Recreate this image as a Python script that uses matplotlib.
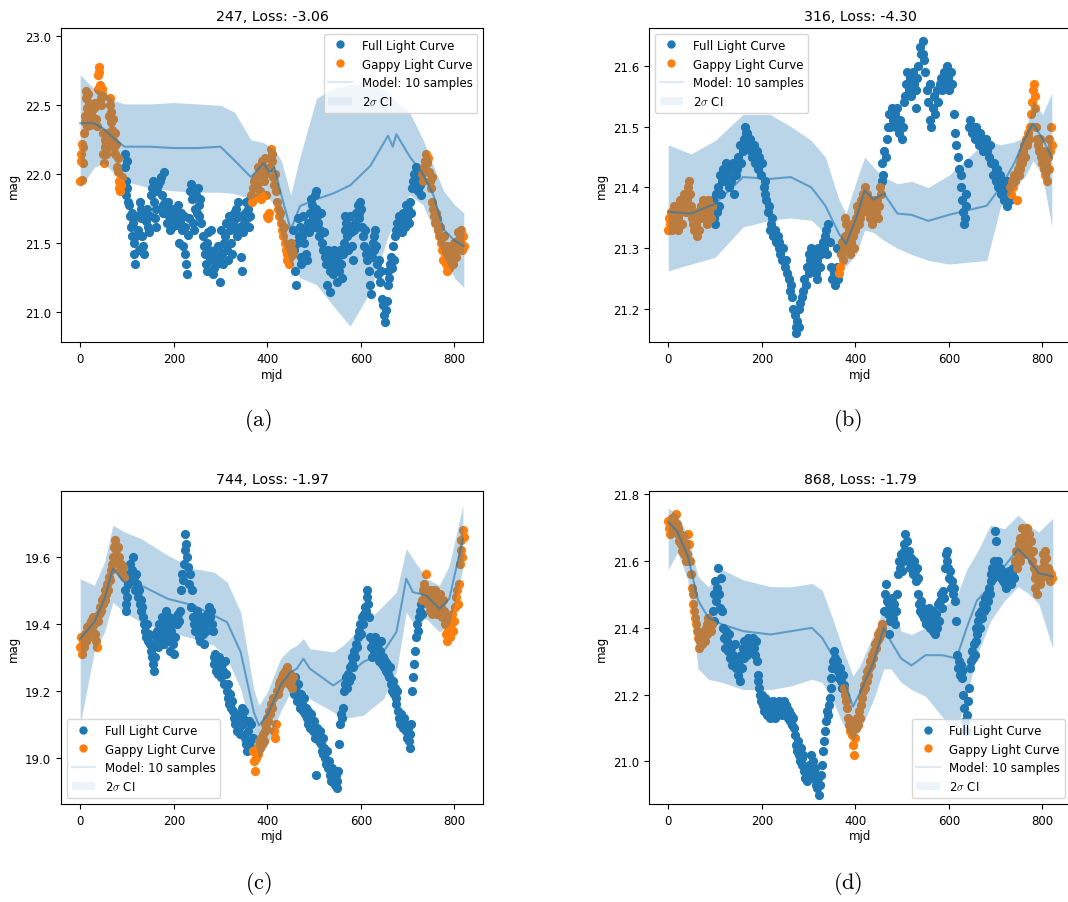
import numpy as np
import matplotlib
matplotlib.use("Agg")
import matplotlib.pyplot as plt
from matplotlib.lines import Line2D
from matplotlib.patches import Patch

plt.rcParams.update({
    'font.size': 8.5,
    'axes.titlesize': 10.2,
    'axes.labelsize': 8.5,
    'xtick.labelsize': 8.5,
    'ytick.labelsize': 8.5,
    'legend.fontsize': 8.5,
    'mathtext.fontset': 'cm',
})

# ---- light curve 247 -------------------------------------------------------
full_247 = [
    (95, 22.15), (96, 22.05), (97, 21.95), (98, 21.85), (100, 22.1), (101, 21.9), (103, 21.8), (105, 21.78),
    (106, 21.7), (108, 21.62), (110, 21.72), (111, 21.55), (113, 21.65), (115, 21.5), (116, 21.42), (118, 21.35),
    (119, 21.55), (121, 21.7), (123, 21.6), (125, 21.45), (127, 21.8), (129, 21.75), (131, 21.68), (133, 21.55),
    (135, 21.48), (137, 21.42), (139, 21.72), (141, 21.66), (143, 21.75), (145, 21.62), (147, 21.58), (149, 21.7),
    (151, 21.85), (153, 21.9), (155, 21.95), (157, 21.8), (159, 21.68), (161, 21.62), (163, 21.75), (165, 21.88),
    (167, 21.92), (170, 21.95), (172, 21.98), (174, 21.85), (176, 21.78), (178, 21.72), (180, 22.02), (182, 21.8),
    (184, 21.74), (186, 21.65), (188, 21.8), (190, 21.7), (192, 21.6), (194, 21.75), (196, 21.62), (198, 21.68),
    (200, 21.72), (202, 21.75), (205, 21.7), (207, 21.63), (209, 21.78), (211, 21.5), (213, 21.66), (215, 21.72),
    (217, 21.6), (219, 21.48), (221, 21.7), (223, 21.62), (225, 21.42), (227, 21.35), (229, 21.28), (231, 21.56),
    (233, 21.68), (235, 21.88), (237, 21.93), (239, 21.82), (241, 21.65), (243, 21.6), (245, 21.75), (247, 21.85),
    (249, 21.72), (251, 21.9), (253, 21.78), (255, 21.7), (257, 21.82), (259, 21.65), (262, 21.55), (264, 21.48),
    (266, 21.42), (268, 21.35), (270, 21.3), (272, 21.5), (274, 21.58), (276, 21.45), (278, 21.38), (280, 21.6),
    (282, 21.42), (284, 21.28), (286, 21.32), (288, 21.45), (290, 21.4), (292, 21.35), (294, 21.48), (296, 21.38),
    (298, 21.22), (300, 21.44), (302, 21.6), (304, 21.42), (306, 21.35), (308, 21.5), (310, 21.55), (312, 21.65),
    (314, 21.45), (316, 21.38), (318, 21.7), (320, 21.6), (322, 21.5), (324, 21.42), (326, 21.65), (328, 21.72),
    (330, 21.6), (332, 21.68), (334, 21.75), (336, 21.55), (338, 21.8), (340, 21.7), (342, 21.62), (344, 21.4),
    (346, 21.3), (348, 21.58), (350, 21.65), (352, 21.72), (354, 21.8), (356, 21.68), (358, 21.75), (360, 21.62),
    (362, 21.82), (364, 21.7),
    (455, 21.6), (457, 21.45), (459, 21.3), (461, 21.2), (463, 21.5), (465, 21.68), (467, 21.55), (469, 21.62),
    (471, 21.4), (473, 21.35), (475, 21.55), (477, 21.7), (479, 21.5), (481, 21.6), (483, 21.42), (485, 21.38),
    (487, 21.65), (489, 21.58), (491, 21.72), (493, 21.82), (495, 21.78), (497, 21.68), (499, 21.62), (501, 21.85),
    (503, 21.88), (505, 21.75), (507, 21.7), (509, 21.65), (511, 21.55), (513, 21.6), (515, 21.72), (517, 21.5),
    (519, 21.45), (521, 21.58), (523, 21.4), (525, 21.35), (527, 21.2), (529, 21.45), (531, 21.38), (533, 21.3),
    (535, 21.15), (537, 21.42), (539, 21.35), (541, 21.28), (543, 21.45), (545, 21.38), (547, 21.32), (549, 21.22),
    (551, 21.4), (553, 21.3), (555, 21.45), (557, 21.35), (559, 21.25), (561, 21.42), (563, 21.5), (565, 21.6),
    (567, 21.7), (569, 21.65), (571, 21.55), (573, 21.45), (575, 21.62), (577, 21.7), (579, 21.58), (581, 21.48),
    (583, 21.38), (585, 21.6), (587, 21.65), (589, 21.72), (591, 21.62), (593, 21.78), (595, 21.68), (597, 21.72),
    (599, 21.8), (601, 21.75), (603, 21.62), (605, 21.55), (607, 21.48), (609, 21.6), (611, 21.42), (613, 21.38),
    (615, 21.45), (617, 21.3), (619, 21.2), (621, 21.13), (623, 21.4), (625, 21.5), (627, 21.45), (629, 21.55),
    (631, 21.6), (633, 21.48), (635, 21.35), (637, 21.28), (639, 21.38), (641, 21.22), (643, 21.3), (645, 21.1),
    (647, 21.05), (649, 20.98), (651, 20.93), (653, 21.02), (655, 21.08), (657, 21.2), (659, 21.3), (661, 21.25),
    (663, 21.35), (665, 21.4), (667, 21.32), (669, 21.48), (671, 21.38), (673, 21.55), (675, 21.6), (677, 21.65),
    (679, 21.58), (681, 21.7), (683, 21.62), (685, 21.68), (687, 21.58), (689, 21.72), (691, 21.65), (693, 21.7),
    (695, 21.62), (697, 21.78), (699, 21.68), (701, 21.75), (703, 21.65), (705, 21.8), (707, 21.72), (709, 21.9),
    (711, 21.95), (713, 22.0), (715, 21.92), (717, 22.05), (719, 21.98), (721, 21.88), (723, 21.95), (725, 22.02),
    (727, 21.92), (729, 21.85),
]
gappy_247 = [
    (0, 21.95), (1, 22.1), (2, 22.15), (3, 21.96), (4, 22.22), (5, 22.08), (7, 22.2), (8, 22.3), (10, 22.38),
    (11, 22.42), (12, 22.55), (13, 22.6), (14, 22.48), (15, 22.35), (16, 22.58), (17, 22.45), (18, 22.52),
    (19, 22.4), (20, 22.36), (22, 22.45), (24, 22.5), (26, 22.42), (28, 22.38), (30, 22.48), (32, 22.52),
    (34, 22.4), (36, 22.35), (38, 22.62), (39, 22.72), (40, 22.78), (41, 22.74), (42, 22.65), (43, 22.6),
    (44, 22.55), (45, 22.5), (46, 22.62), (47, 22.58), (48, 22.3), (49, 22.15), (50, 22.08), (52, 22.2),
    (54, 22.25), (55, 22.15), (56, 22.22), (58, 22.18), (60, 22.3), (62, 22.42), (63, 22.5), (64, 22.55),
    (65, 22.45), (66, 22.38), (68, 22.32), (70, 22.4), (71, 22.25), (72, 22.2), (74, 22.3), (75, 22.15),
    (76, 22.22), (78, 22.05), (80, 22.12), (81, 22.02), (82, 21.95), (84, 21.9), (86, 21.88), (88, 21.92),
    (90, 21.98),
    (366, 21.85), (368, 21.8), (370, 21.9), (372, 21.95), (374, 21.83), (376, 21.98), (378, 21.92), (380, 22.05),
    (382, 22.0), (384, 21.88), (386, 21.82), (388, 22.1), (390, 22.05), (392, 21.95), (394, 22.12), (396, 22.0),
    (398, 21.85), (400, 21.7), (401, 21.68), (403, 21.72), (405, 22.05), (407, 22.18), (409, 22.15), (411, 22.1),
    (413, 21.98), (415, 21.92), (417, 22.0), (419, 21.88), (421, 21.8), (423, 21.75), (425, 21.7), (427, 21.72),
    (429, 21.65), (431, 21.6), (433, 21.55), (435, 21.62), (437, 21.5), (439, 21.45), (441, 21.38), (443, 21.42),
    (445, 21.48), (447, 21.35), (449, 21.4), (451, 21.5), (453, 21.45), (455, 21.42),
    (731, 22.0), (733, 21.95), (735, 22.05), (737, 22.1), (739, 22.15), (741, 22.08), (743, 22.12), (745, 22.02),
    (747, 21.95), (749, 21.9), (751, 21.98), (753, 21.8), (755, 21.75), (757, 21.7), (759, 21.65), (761, 21.72),
    (763, 21.68), (765, 21.6), (767, 21.55), (769, 21.62), (771, 21.5), (773, 21.45), (775, 21.38), (777, 21.55),
    (779, 21.42), (781, 21.35), (783, 21.3), (785, 21.48), (787, 21.4), (789, 21.32), (791, 21.45), (793, 21.38),
    (795, 21.42), (797, 21.35), (799, 21.5), (801, 21.45), (803, 21.4), (805, 21.52), (807, 21.58), (809, 21.48),
    (811, 21.55), (813, 21.6), (815, 21.5), (817, 21.45), (819, 21.55), (821, 21.48),
]
model_mjd_247 = [0, 30, 50, 75, 95, 150, 200, 250, 300, 330, 365, 392, 405, 415, 430, 450, 470, 505, 540, 577,
                 620, 658, 668, 676, 704, 733, 755, 777, 800, 820]
model_mean_247 = [22.37, 22.37, 22.33, 22.25, 22.2, 22.2, 22.19, 22.19, 22.2, 22.1, 21.98, 22.08, 22.01, 22.05,
                  21.85, 21.6, 21.77, 21.82, 21.86, 21.92, 22.06, 22.28, 22.2, 22.29, 22.13, 22.0, 21.85, 21.6,
                  21.52, 21.48]
model_hi_247 = [22.72, 22.62, 22.6, 22.53, 22.51, 22.51, 22.52, 22.51, 22.5, 22.45, 22.25, 22.23, 22.2, 22.18,
                22.1, 21.85, 22.13, 22.55, 22.62, 22.65, 22.65, 22.6, 22.55, 22.52, 22.45, 22.25, 22.06, 21.88,
                21.78, 21.72]
model_lo_247 = [21.9, 22.05, 22.08, 22.0, 21.95, 21.9, 21.88, 21.87, 21.87, 21.86, 21.82, 21.88, 21.82, 21.78,
                21.55, 21.35, 21.25, 21.2, 21.05, 20.9, 21.15, 21.55, 21.62, 21.7, 21.85, 21.78, 21.6, 21.4,
                21.25, 21.18]

# ---- light curve 316 -------------------------------------------------------
full_316 = [
    (96, 21.38), (98, 21.35), (100, 21.34), (102, 21.39), (104, 21.36), (106, 21.4), (108, 21.37), (110, 21.42),
    (112, 21.39), (114, 21.41), (117, 21.43), (120, 21.41), (123, 21.44), (126, 21.42), (129, 21.4), (132, 21.43),
    (135, 21.41), (138, 21.44), (141, 21.39), (144, 21.42), (147, 21.43), (150, 21.45), (152, 21.44), (153, 21.47),
    (156, 21.44), (159, 21.46), (162, 21.48), (165, 21.5), (166, 21.49), (168, 21.49), (171, 21.47), (174, 21.48),
    (177, 21.46), (178, 21.47), (180, 21.45), (183, 21.47), (186, 21.44), (189, 21.46), (192, 21.43), (195, 21.45),
    (198, 21.42), (201, 21.44), (204, 21.4), (206, 21.41), (207, 21.39), (210, 21.38), (213, 21.36), (216, 21.37),
    (218, 21.33), (219, 21.34), (222, 21.35), (225, 21.32), (228, 21.33), (231, 21.31), (234, 21.32), (236, 21.31),
    (237, 21.3), (240, 21.29), (243, 21.28), (246, 21.3), (249, 21.27), (252, 21.28), (255, 21.26), (258, 21.25),
    (261, 21.23), (262, 21.24), (264, 21.22), (267, 21.2), (270, 21.19), (273, 21.17), (274, 21.16), (276, 21.18),
    (279, 21.2), (280, 21.17), (282, 21.21), (285, 21.22), (288, 21.23), (291, 21.25), (294, 21.24), (297, 21.27),
    (300, 21.26), (301, 21.29), (303, 21.28), (306, 21.3), (309, 21.27), (312, 21.29), (315, 21.26), (318, 21.28),
    (319, 21.25), (321, 21.3), (324, 21.27), (327, 21.29), (330, 21.31), (333, 21.3), (336, 21.32), (338, 21.33),
    (339, 21.29), (342, 21.34), (345, 21.31), (348, 21.27), (351, 21.25), (354, 21.26), (357, 21.24), (360, 21.27),
    (361, 21.3), (363, 21.25),
    (456, 21.41), (458, 21.44), (460, 21.42), (462, 21.46), (465, 21.45), (467, 21.48), (469, 21.5), (472, 21.52),
    (475, 21.5), (478, 21.53), (481, 21.51), (484, 21.52), (487, 21.5), (490, 21.53), (493, 21.49), (496, 21.51),
    (499, 21.48), (502, 21.5), (505, 21.54), (506, 21.55), (508, 21.57), (511, 21.59), (514, 21.56), (517, 21.58),
    (520, 21.55), (523, 21.59), (526, 21.57), (529, 21.53), (530, 21.56), (532, 21.58), (535, 21.6), (538, 21.63),
    (541, 21.62), (544, 21.64), (545, 21.62), (547, 21.61), (550, 21.59), (553, 21.56), (556, 21.54), (559, 21.57),
    (560, 21.51), (562, 21.5), (565, 21.53), (568, 21.55), (571, 21.52), (574, 21.56), (577, 21.54), (580, 21.57),
    (583, 21.58), (586, 21.56), (589, 21.59), (592, 21.57), (595, 21.6), (598, 21.58), (600, 21.59), (601, 21.56),
    (604, 21.59), (607, 21.57), (610, 21.52), (613, 21.49), (616, 21.47), (619, 21.45), (622, 21.43), (625, 21.4),
    (626, 21.42), (628, 21.38), (631, 21.36), (632, 21.34), (634, 21.35), (636, 21.37), (637, 21.39), (640, 21.44),
    (643, 21.5), (646, 21.51), (649, 21.49), (652, 21.5), (655, 21.48), (658, 21.5), (661, 21.49), (664, 21.47),
    (667, 21.49), (670, 21.48), (673, 21.46), (676, 21.48), (679, 21.47), (680, 21.48), (682, 21.46), (685, 21.45),
    (688, 21.47), (691, 21.44), (694, 21.42), (697, 21.44), (700, 21.41), (701, 21.43), (703, 21.43), (706, 21.4),
    (709, 21.42), (712, 21.39), (715, 21.41), (718, 21.38), (721, 21.4), (724, 21.37), (725, 21.41), (727, 21.39),
    (730, 21.38), (733, 21.4),
]
gappy_316 = [
    (0, 21.33), (2, 21.35), (4, 21.34), (6, 21.36), (8, 21.33), (10, 21.35), (12, 21.37), (14, 21.34),
    (16, 21.36), (18, 21.35), (20, 21.33), (22, 21.35), (24, 21.37), (26, 21.38), (28, 21.36), (30, 21.34),
    (32, 21.37), (34, 21.39), (36, 21.38), (38, 21.36), (40, 21.38), (42, 21.4), (44, 21.41), (46, 21.39),
    (48, 21.37), (50, 21.35), (52, 21.34), (54, 21.36), (56, 21.33), (58, 21.35), (60, 21.34), (62, 21.32),
    (64, 21.36), (66, 21.33), (68, 21.35), (70, 21.37), (72, 21.36), (74, 21.38), (76, 21.35), (78, 21.37),
    (80, 21.36), (82, 21.34), (84, 21.37), (86, 21.38), (88, 21.36), (90, 21.37), (92, 21.35), (94, 21.37),
    (365, 21.26), (367, 21.27), (369, 21.29), (371, 21.31), (373, 21.28), (375, 21.3), (377, 21.32), (379, 21.35),
    (381, 21.34), (383, 21.31), (385, 21.3), (387, 21.33), (389, 21.29), (391, 21.31), (393, 21.34), (395, 21.32),
    (397, 21.3), (399, 21.33), (401, 21.35), (403, 21.37), (405, 21.36), (407, 21.34), (409, 21.37), (411, 21.35),
    (413, 21.38), (415, 21.36), (417, 21.39), (419, 21.38), (421, 21.4), (423, 21.37), (425, 21.39), (427, 21.36),
    (429, 21.38), (431, 21.35), (433, 21.37), (435, 21.34), (437, 21.36), (439, 21.38), (441, 21.35), (443, 21.37),
    (445, 21.36), (447, 21.38), (449, 21.35), (451, 21.37), (453, 21.4), (455, 21.39),
    (731, 21.4), (733, 21.39), (735, 21.41), (737, 21.4), (739, 21.42), (741, 21.41), (745, 21.38), (747, 21.43),
    (749, 21.42), (751, 21.44), (753, 21.43), (755, 21.45), (757, 21.44), (759, 21.46), (761, 21.47), (763, 21.45),
    (765, 21.48), (767, 21.47), (769, 21.49), (771, 21.48), (773, 21.5), (775, 21.52), (777, 21.54), (779, 21.56),
    (781, 21.57), (783, 21.55), (785, 21.53), (787, 21.5), (789, 21.48), (791, 21.47), (793, 21.46), (795, 21.48),
    (797, 21.45), (799, 21.44), (801, 21.46), (803, 21.43), (805, 21.42), (807, 21.44), (809, 21.41), (811, 21.45),
    (813, 21.43), (815, 21.48), (817, 21.46), (819, 21.5), (821, 21.47),
]
model_mjd_316 = [0, 49, 100, 160, 218, 262, 306, 336, 365, 380, 402, 420, 439, 461, 490, 520, 556, 600, 681, 710,
                 740, 762, 780, 800, 820]
model_mean_316 = [21.36, 21.357, 21.373, 21.417, 21.414, 21.417, 21.4, 21.37, 21.324, 21.307, 21.35, 21.395,
                  21.38, 21.39, 21.357, 21.355, 21.345, 21.355, 21.37, 21.4, 21.44, 21.48, 21.505, 21.48, 21.45]
model_hi_316 = [21.47, 21.455, 21.477, 21.52, 21.52, 21.5, 21.477, 21.45, 21.38, 21.357, 21.41, 21.45, 21.433,
                21.417, 21.406, 21.41, 21.4, 21.42, 21.477, 21.47, 21.475, 21.483, 21.543, 21.52, 21.555]
model_lo_316 = [21.263, 21.274, 21.285, 21.335, 21.346, 21.35, 21.346, 21.324, 21.28, 21.27, 21.29, 21.33,
                21.326, 21.313, 21.3, 21.29, 21.28, 21.274, 21.28, 21.367, 21.4, 21.417, 21.444, 21.42, 21.335]

# ---- light curve 744 -------------------------------------------------------
full_744 = [
    (95, 19.5), (97, 19.46), (99, 19.44), (101, 19.48), (103, 19.52), (105, 19.55), (107, 19.58), (109, 19.53),
    (111, 19.56), (113, 19.6), (115, 19.54), (117, 19.5), (119, 19.55), (121, 19.52), (123, 19.48), (125, 19.5),
    (127, 19.46), (129, 19.44), (131, 19.47), (133, 19.45), (135, 19.42), (137, 19.4), (139, 19.38), (141, 19.36),
    (143, 19.4), (145, 19.35), (147, 19.37), (149, 19.34), (151, 19.32), (153, 19.3), (155, 19.28), (157, 19.26),
    (159, 19.3), (161, 19.34), (163, 19.36), (165, 19.38), (167, 19.33), (169, 19.4), (171, 19.35), (173, 19.37),
    (175, 19.42), (177, 19.38), (179, 19.34), (181, 19.4), (183, 19.44), (185, 19.36), (187, 19.38), (189, 19.42),
    (191, 19.35), (193, 19.32), (195, 19.38), (197, 19.4), (199, 19.34), (201, 19.31), (203, 19.36), (205, 19.42),
    (207, 19.4), (209, 19.43), (211, 19.41), (213, 19.44), (215, 19.5), (217, 19.55), (219, 19.53), (221, 19.58),
    (223, 19.62), (225, 19.67), (227, 19.64), (229, 19.6), (231, 19.57), (233, 19.52), (235, 19.55), (237, 19.45),
    (239, 19.5), (241, 19.42), (243, 19.4), (245, 19.38), (247, 19.42), (249, 19.44), (251, 19.4), (253, 19.36),
    (255, 19.39), (257, 19.35), (259, 19.38), (261, 19.42), (263, 19.37), (265, 19.34), (267, 19.4), (269, 19.38),
    (271, 19.43), (273, 19.41), (275, 19.45), (277, 19.42), (279, 19.44), (281, 19.4), (283, 19.38), (285, 19.3),
    (287, 19.28), (289, 19.31), (291, 19.26), (293, 19.29), (295, 19.25), (297, 19.3), (299, 19.27), (301, 19.24),
    (303, 19.28), (305, 19.26), (307, 19.22), (309, 19.29), (311, 19.25), (313, 19.2), (315, 19.22), (317, 19.18),
    (319, 19.16), (321, 19.19), (323, 19.15), (325, 19.17), (327, 19.14), (329, 19.12), (331, 19.1), (333, 19.13),
    (335, 19.08), (337, 19.11), (339, 19.09), (341, 19.07), (343, 19.12), (345, 19.15), (347, 19.12), (349, 19.1),
    (351, 19.14), (353, 19.06), (355, 19.04), (357, 19.02), (359, 19.08), (361, 19.11), (363, 19.05), (365, 19.1),
    (367, 19.03), (369, 19.06),
    (456, 19.22), (458, 19.19), (460, 19.24), (462, 19.2), (464, 19.17), (466, 19.22), (468, 19.18), (470, 19.15),
    (472, 19.19), (474, 19.16), (476, 19.14), (478, 19.18), (480, 19.13), (482, 19.15), (484, 19.12), (486, 19.1),
    (488, 19.14), (490, 19.11), (492, 19.09), (494, 19.13), (496, 19.1), (498, 19.08), (500, 19.11), (502, 19.06),
    (504, 18.95), (506, 19.09), (508, 19.07), (510, 19.05), (512, 19.08), (514, 19.04), (516, 19.02), (518, 19.06),
    (520, 19.01), (522, 19.03), (524, 19.0), (526, 18.98), (528, 19.02), (530, 18.97), (532, 18.99), (534, 18.95),
    (536, 18.93), (538, 18.97), (540, 18.94), (542, 18.96), (544, 18.92), (546, 18.95), (548, 18.91), (550, 18.93),
    (552, 18.96), (554, 19.04), (556, 19.1), (558, 19.13), (560, 19.12), (562, 19.15), (564, 19.2), (566, 19.22),
    (568, 19.24), (570, 19.21), (572, 19.25), (574, 19.23), (576, 19.27), (578, 19.24), (580, 19.28), (582, 19.3),
    (584, 19.27), (586, 19.32), (588, 19.3), (590, 19.34), (592, 19.33), (594, 19.36), (596, 19.38), (598, 19.4),
    (600, 19.37), (602, 19.42), (604, 19.4), (606, 19.43), (608, 19.45), (610, 19.44), (612, 19.48), (614, 19.5),
    (616, 19.46), (618, 19.42), (620, 19.36), (622, 19.33), (624, 19.3), (626, 19.35), (628, 19.32), (630, 19.36),
    (632, 19.33), (634, 19.31), (636, 19.34), (638, 19.29), (640, 19.32), (642, 19.3), (644, 19.35), (646, 19.28),
    (648, 19.3), (650, 19.27), (652, 19.29), (654, 19.26), (656, 19.28), (658, 19.25), (660, 19.24), (662, 19.27),
    (664, 19.22), (666, 19.2), (668, 19.23), (670, 19.19), (672, 19.21), (674, 19.18), (676, 19.16), (678, 19.2),
    (680, 19.14), (682, 19.12), (684, 19.1), (686, 19.13), (688, 19.11), (690, 19.09), (692, 19.12), (694, 19.1),
    (696, 19.08), (698, 19.06), (700, 19.09), (702, 19.05), (704, 19.03), (706, 19.07), (708, 19.1), (710, 19.2),
    (712, 19.24), (714, 19.28), (716, 19.32), (718, 19.36), (720, 19.4), (722, 19.38), (724, 19.42), (726, 19.44),
    (728, 19.46), (730, 19.43),
]
gappy_744 = [
    (0, 19.33), (2, 19.36), (4, 19.31), (6, 19.35), (8, 19.33), (10, 19.37), (12, 19.35), (14, 19.39),
    (16, 19.36), (18, 19.38), (20, 19.4), (22, 19.38), (24, 19.41), (26, 19.39), (28, 19.42), (30, 19.4),
    (32, 19.37), (34, 19.35), (36, 19.33), (38, 19.41), (40, 19.43), (42, 19.45), (44, 19.44), (46, 19.47),
    (48, 19.46), (50, 19.48), (52, 19.47), (54, 19.5), (56, 19.49), (58, 19.52), (60, 19.5), (62, 19.54),
    (64, 19.53), (66, 19.56), (68, 19.58), (70, 19.6), (72, 19.63), (74, 19.65), (76, 19.62), (78, 19.6),
    (80, 19.63), (82, 19.58), (84, 19.6), (86, 19.56), (88, 19.58), (90, 19.55), (92, 19.57), (94, 19.54),
    (370, 19.02), (372, 18.99), (374, 18.96), (376, 19.0), (378, 19.03), (380, 19.01), (382, 19.05), (384, 19.03),
    (386, 19.06), (388, 19.04), (390, 19.07), (392, 19.05), (394, 19.08), (396, 19.1), (398, 19.09), (400, 19.12),
    (402, 19.11), (404, 19.14), (406, 19.13), (408, 19.16), (410, 19.15), (412, 19.18), (414, 19.08), (416, 19.06),
    (418, 19.1), (420, 19.2), (422, 19.19), (424, 19.22), (426, 19.21), (428, 19.23), (430, 19.22), (432, 19.24),
    (434, 19.25), (436, 19.23), (438, 19.26), (440, 19.25), (442, 19.27), (444, 19.24), (446, 19.22), (448, 19.25),
    (450, 19.23), (452, 19.21), (454, 19.24),
    (731, 19.47), (733, 19.5), (735, 19.52), (737, 19.48), (739, 19.55), (741, 19.5), (743, 19.46), (745, 19.48),
    (747, 19.44), (749, 19.5), (751, 19.46), (753, 19.43), (755, 19.48), (757, 19.45), (759, 19.5), (761, 19.47),
    (763, 19.43), (765, 19.46), (767, 19.44), (769, 19.49), (771, 19.45), (773, 19.42), (775, 19.47), (777, 19.44),
    (779, 19.4), (781, 19.37), (783, 19.35), (785, 19.4), (787, 19.38), (789, 19.42), (791, 19.36), (793, 19.4),
    (795, 19.43), (797, 19.38), (799, 19.41), (801, 19.45), (803, 19.48), (805, 19.5), (807, 19.46), (809, 19.52),
    (811, 19.58), (813, 19.62), (815, 19.65), (817, 19.6), (819, 19.68), (821, 19.66),
]
model_mjd_744 = [0, 30, 52, 70, 94, 130, 187, 243, 286, 314, 343, 371, 382, 400, 428, 449, 463, 477, 491, 541,
                 562, 605, 648, 676, 697, 711, 740, 768, 789, 818]
model_mean_744 = [19.356, 19.405, 19.475, 19.565, 19.525, 19.515, 19.475, 19.455, 19.425, 19.405, 19.316,
                  19.137, 19.097, 19.127, 19.216, 19.256, 19.266, 19.296, 19.266, 19.216, 19.236, 19.286,
                  19.316, 19.376, 19.535, 19.495, 19.485, 19.445, 19.475, 19.655]
model_hi_744 = [19.535, 19.515, 19.585, 19.695, 19.675, 19.655, 19.605, 19.565, 19.555, 19.525, 19.435, 19.206,
                19.156, 19.196, 19.296, 19.326, 19.336, 19.356, 19.326, 19.316, 19.336, 19.396, 19.455, 19.495,
                19.625, 19.595, 19.535, 19.515, 19.575, 19.755]
model_lo_744 = [19.1, 19.316, 19.376, 19.465, 19.435, 19.405, 19.376, 19.356, 19.336, 19.296, 19.206, 19.057,
                19.0, 19.037, 19.137, 19.196, 19.196, 19.206, 19.176, 19.137, 19.117, 19.127, 19.176, 19.256,
                19.435, 19.405, 19.415, 19.376, 19.396, 19.565]

# ---- light curve 868 -------------------------------------------------------
full_868 = [
    (95, 21.45), (97, 21.5), (99, 21.42), (101, 21.54), (103, 21.48), (105, 21.52), (107, 21.58), (109, 21.5),
    (111, 21.46), (113, 21.55), (115, 21.45), (117, 21.4), (119, 21.37), (121, 21.34), (123, 21.39), (125, 21.36),
    (127, 21.33), (129, 21.38), (131, 21.35), (133, 21.31), (135, 21.34), (137, 21.29), (139, 21.32), (141, 21.3),
    (143, 21.35), (145, 21.28), (147, 21.31), (149, 21.26), (151, 21.3), (153, 21.24), (155, 21.32), (157, 21.28),
    (159, 21.34), (161, 21.31), (163, 21.36), (165, 21.33), (167, 21.35), (169, 21.32), (171, 21.37), (173, 21.34),
    (175, 21.36), (177, 21.33), (179, 21.35), (181, 21.37), (183, 21.34), (185, 21.32), (187, 21.36), (189, 21.3),
    (191, 21.26), (193, 21.24), (195, 21.22), (197, 21.2), (199, 21.18), (201, 21.2), (203, 21.17), (205, 21.15),
    (207, 21.19), (209, 21.16), (211, 21.14), (213, 21.18), (215, 21.15), (217, 21.13), (219, 21.17), (221, 21.14),
    (223, 21.16), (225, 21.18), (227, 21.15), (229, 21.13), (231, 21.17), (233, 21.14), (235, 21.16), (237, 21.18),
    (239, 21.15), (241, 21.17), (243, 21.14), (245, 21.16), (247, 21.18), (249, 21.15), (251, 21.17), (253, 21.14),
    (255, 21.16), (257, 21.13), (259, 21.15), (261, 21.12), (263, 21.14), (265, 21.11), (267, 21.13), (269, 21.1),
    (271, 21.08), (273, 21.05), (275, 21.03), (277, 21.06), (279, 21.02), (281, 21.0), (283, 21.04), (285, 21.01),
    (287, 20.99), (289, 21.02), (291, 20.97), (293, 20.95), (295, 20.98), (297, 20.94), (299, 20.96), (301, 20.99),
    (303, 20.95), (305, 21.02), (307, 20.97), (309, 21.0), (311, 20.95), (313, 20.98), (315, 20.93), (317, 20.96),
    (319, 20.92), (321, 20.95), (323, 20.9), (325, 20.93), (327, 20.96), (329, 20.99), (331, 21.03), (333, 21.06),
    (335, 21.09), (337, 21.12), (339, 21.15), (341, 21.14), (343, 21.17), (345, 21.19), (347, 21.22), (349, 21.25),
    (351, 21.28), (353, 21.3), (355, 21.33), (357, 21.31), (359, 21.28), (361, 21.3), (363, 21.27), (365, 21.25),
    (367, 21.28), (369, 21.24), (371, 21.22), (373, 21.26), (375, 21.23),
    (461, 21.45), (463, 21.5), (465, 21.53), (467, 21.48), (469, 21.44), (471, 21.47), (473, 21.38), (475, 21.42),
    (477, 21.46), (479, 21.49), (481, 21.43), (483, 21.47), (485, 21.41), (487, 21.45), (489, 21.5), (491, 21.56),
    (493, 21.6), (495, 21.58), (497, 21.62), (499, 21.57), (501, 21.6), (503, 21.63), (505, 21.65), (507, 21.68),
    (509, 21.62), (511, 21.66), (513, 21.6), (515, 21.63), (517, 21.58), (519, 21.61), (521, 21.59), (523, 21.56),
    (525, 21.6), (527, 21.57), (529, 21.54), (531, 21.58), (533, 21.55), (535, 21.5), (537, 21.47), (539, 21.45),
    (541, 21.48), (543, 21.44), (545, 21.46), (547, 21.43), (549, 21.45), (551, 21.41), (553, 21.44), (555, 21.42),
    (557, 21.46), (559, 21.4), (561, 21.43), (563, 21.41), (565, 21.45), (567, 21.39), (569, 21.42), (571, 21.38),
    (573, 21.44), (575, 21.4), (577, 21.47), (579, 21.42), (581, 21.48), (583, 21.5), (585, 21.46), (587, 21.51),
    (589, 21.49), (591, 21.58), (593, 21.62), (595, 21.6), (597, 21.63), (599, 21.58), (601, 21.55), (603, 21.57),
    (605, 21.52), (607, 21.54), (609, 21.5), (611, 21.52), (613, 21.48), (615, 21.42), (617, 21.32), (619, 21.28),
    (621, 21.3), (623, 21.26), (625, 21.29), (627, 21.25), (629, 21.27), (631, 21.2), (633, 21.16), (635, 21.12),
    (637, 21.09), (639, 21.14), (641, 21.18), (643, 21.22), (645, 21.28), (647, 21.3), (649, 21.33), (651, 21.31),
    (653, 21.35), (655, 21.32), (657, 21.36), (659, 21.4), (661, 21.38), (663, 21.42), (665, 21.44), (667, 21.4),
    (669, 21.45), (671, 21.43), (673, 21.47), (675, 21.45), (677, 21.49), (679, 21.46), (681, 21.5), (683, 21.48),
    (685, 21.52), (687, 21.5), (689, 21.54), (691, 21.56), (693, 21.58), (695, 21.55), (697, 21.6), (699, 21.69),
    (701, 21.66), (703, 21.58), (705, 21.6), (707, 21.56), (709, 21.58), (711, 21.55), (713, 21.57), (715, 21.54),
    (717, 21.56), (719, 21.53), (721, 21.55), (723, 21.52), (725, 21.56), (727, 21.54), (729, 21.57), (731, 21.55),
    (733, 21.53), (735, 21.56), (737, 21.58), (739, 21.55),
]
gappy_868 = [
    (0, 21.72), (2, 21.7), (4, 21.68), (6, 21.71), (8, 21.73), (10, 21.69), (12, 21.72), (14, 21.7),
    (16, 21.74), (18, 21.71), (20, 21.68), (22, 21.7), (24, 21.66), (26, 21.68), (28, 21.65), (30, 21.63),
    (32, 21.66), (34, 21.62), (36, 21.64), (38, 21.6), (40, 21.62), (42, 21.68), (44, 21.65), (46, 21.6),
    (48, 21.56), (50, 21.52), (52, 21.5), (54, 21.47), (56, 21.45), (58, 21.43), (60, 21.41), (62, 21.39),
    (64, 21.37), (66, 21.34), (68, 21.36), (70, 21.38), (72, 21.35), (74, 21.37), (76, 21.39), (78, 21.36),
    (80, 21.4), (82, 21.38), (84, 21.41), (86, 21.43), (88, 21.4), (90, 21.42), (92, 21.39), (94, 21.41),
    (376, 21.22), (378, 21.2), (380, 21.18), (382, 21.16), (384, 21.13), (386, 21.11), (388, 21.09), (390, 21.12),
    (392, 21.08), (394, 21.1), (396, 21.05), (398, 21.02), (400, 21.07), (402, 21.1), (404, 21.13), (406, 21.11),
    (408, 21.15), (410, 21.13), (412, 21.17), (414, 21.19), (416, 21.21), (418, 21.23), (420, 21.22), (422, 21.25),
    (424, 21.24), (426, 21.27), (428, 21.26), (430, 21.28), (432, 21.3), (434, 21.29), (436, 21.32), (438, 21.31),
    (440, 21.33), (442, 21.35), (444, 21.34), (446, 21.36), (448, 21.38), (450, 21.37), (452, 21.39), (454, 21.38),
    (456, 21.4), (458, 21.41),
    (741, 21.6), (743, 21.63), (745, 21.58), (747, 21.62), (749, 21.65), (751, 21.6), (753, 21.67), (755, 21.64),
    (757, 21.7), (759, 21.66), (761, 21.62), (763, 21.68), (765, 21.64), (767, 21.7), (769, 21.65), (771, 21.68),
    (773, 21.62), (775, 21.66), (777, 21.6), (779, 21.63), (781, 21.58), (783, 21.55), (785, 21.52), (787, 21.56),
    (789, 21.5), (791, 21.54), (793, 21.57), (795, 21.53), (797, 21.55), (799, 21.58), (801, 21.62), (803, 21.6),
    (805, 21.63), (807, 21.61), (809, 21.56), (811, 21.58), (813, 21.55), (815, 21.57), (817, 21.54), (819, 21.56),
    (821, 21.55),
]
model_mjd_868 = [0, 20, 42, 64, 86, 116, 160, 219, 263, 307, 329, 351, 373, 395, 410, 439, 461, 476, 498, 520,
                 550, 586, 616, 638, 660, 689, 719, 748, 770, 792, 822]
model_mean_868 = [21.718, 21.687, 21.615, 21.482, 21.43, 21.41, 21.39, 21.38, 21.39, 21.4, 21.37, 21.318,
                  21.256, 21.164, 21.205, 21.297, 21.4, 21.359, 21.308, 21.287, 21.318, 21.318, 21.308, 21.4,
                  21.482, 21.523, 21.585, 21.636, 21.605, 21.564, 21.554]
model_hi_868 = [21.759, 21.738, 21.677, 21.554, 21.523, 21.574, 21.544, 21.523, 21.523, 21.533, 21.513, 21.43,
                21.338, 21.256, 21.287, 21.38, 21.462, 21.492, 21.39, 21.38, 21.4, 21.462, 21.492, 21.574,
                21.626, 21.708, 21.697, 21.738, 21.708, 21.687, 21.728]
model_lo_868 = [21.574, 21.626, 21.544, 21.277, 21.246, 21.236, 21.215, 21.215, 21.226, 21.246, 21.236, 21.185,
                21.113, 21.062, 21.092, 21.185, 21.277, 21.277, 21.236, 21.215, 21.195, 21.133, 21.092, 21.195,
                21.318, 21.42, 21.482, 21.523, 21.503, 21.472, 21.338]

titles = ["247, Loss: -3.06", "316, Loss: -4.30", "744, Loss: -1.97", "868, Loss: -1.79"]
captions = ["(a)", "(b)", "(c)", "(d)"]

W, H = 1068, 903
fig = plt.figure(figsize=(W / 100, H / 100), dpi=100)


def px_axes(left, top, right, bottom):
    return fig.add_axes([left / W, 1 - bottom / H, (right - left) / W, (bottom - top) / H])


def draw_panel(ax, full, gappy, mjd, mean, lo, hi, title, loc, ylim):
    fx, fy = np.array(full).T
    gx, gy = np.array(gappy).T
    ax.scatter(fx, fy, s=44, color='C0', linewidths=0)
    ax.scatter(gx, gy, s=44, color='C1', linewidths=0)
    # CI band and mean model drawn over the points
    ax.fill_between(mjd, lo, hi, color='C0', alpha=0.3, lw=0)
    ax.plot(mjd, mean, color='C0', alpha=0.6, lw=1.5)
    ax.set_xlim(-41, 861)
    ax.set_ylim(*ylim)
    ax.set_xticks([0, 200, 400, 600, 800])
    ax.set_title(title)
    ax.set_xlabel('mjd', labelpad=2)
    ax.set_ylabel('mag')
    handles = [
        Line2D([], [], ls='none', marker='o', ms=6, color='C0', mew=0),
        Line2D([], [], ls='none', marker='o', ms=6, color='C1', mew=0),
        Line2D([], [], color='C0', alpha=0.15, lw=1.5),
        Patch(facecolor='C0', alpha=0.08, lw=0),
    ]
    labels = ['Full Light Curve', 'Gappy Light Curve', 'Model: 10 samples', r'2$\sigma$ CI']
    ax.legend(handles, labels, loc=loc)


ax_a = px_axes(61, 29, 483, 343)
ax_b = px_axes(649, 29, 1071, 343)
ax_c = px_axes(61, 492, 483, 805)
ax_d = px_axes(649, 492, 1071, 805)

draw_panel(ax_a, full_247, gappy_247, model_mjd_247, model_mean_247, model_lo_247, model_hi_247,
           titles[0], 'upper right', (20.785, 23.06))
draw_panel(ax_b, full_316, gappy_316, model_mjd_316, model_mean_316, model_lo_316, model_hi_316,
           titles[1], 'upper left', (21.146, 21.662))
draw_panel(ax_c, full_744, gappy_744, model_mjd_744, model_mean_744, model_lo_744, model_hi_744,
           titles[2], 'lower left', (18.862, 19.797))
draw_panel(ax_d, full_868, gappy_868, model_mjd_868, model_mean_868, model_lo_868, model_hi_868,
           titles[3], 'lower right', (20.872, 21.81))

# sub-figure captions
for (cx, cy), cap in zip([(258, 421), (848, 421), (258, 884), (848, 884)], captions):
    fig.text(cx / W, 1 - cy / H, r'$\mathrm{' + cap + '}$', ha='center', va='center', fontsize=16)

fig.savefig('out.png', dpi=100)
